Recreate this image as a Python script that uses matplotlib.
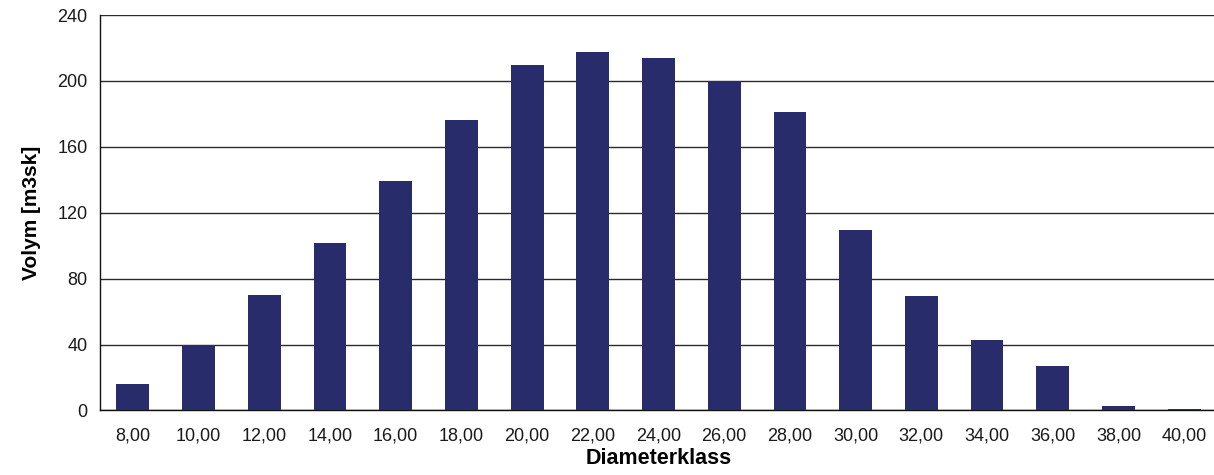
import numpy as np
import matplotlib.pyplot as plt

# diameter classes and volumes
klasser = ["8,00", "10,00", "12,00", "14,00", "16,00", "18,00", "20,00", "22,00", "24,00",
           "26,00", "28,00", "30,00", "32,00", "34,00", "36,00", "38,00", "40,00"]
volym = [16, 40, 70, 101.5, 139.5, 176, 209.5, 217.5, 214, 200, 181, 109.5, 69.5, 43, 27, 3, 0.8]
y_ticks = [0, 40, 80, 120, 160, 200, 240]

plt.rcParams["font.family"] = ["Liberation Sans", "DejaVu Sans"]

fig = plt.figure(figsize=(12.14, 4.75), dpi=100)
ax = fig.add_axes([0.0824, 0.1358, 0.9201, 0.8326])

x = np.arange(len(klasser))
ax.bar(x, volym, width=0.5, color="#292c6b", zorder=3)

ax.set_xlim(-0.5, len(klasser) - 0.5)
ax.set_ylim(0, 240)
ax.set_yticks(y_ticks)
ax.yaxis.grid(True, color="#2a2a2a", linewidth=1.0, zorder=0)

ax.set_xticks(x)
ax.set_xticklabels(klasser)
ax.tick_params(axis="x", length=0, pad=12, labelsize=13, colors="#1a1a1a")
ax.tick_params(axis="y", length=0, pad=9, labelsize=13, colors="#1a1a1a")

for side in ["left", "bottom", "right"]:
    ax.spines[side].set_color("#111111")
    ax.spines[side].set_linewidth(1.0)
ax.spines["top"].set_visible(False)

ax.set_xlabel("Diameterklass", fontsize=15.5, fontweight="bold", labelpad=3)
ax.set_ylabel("Volym [m3sk]", fontsize=15, fontweight="bold", labelpad=12)

fig.savefig("out.png", dpi=100)
